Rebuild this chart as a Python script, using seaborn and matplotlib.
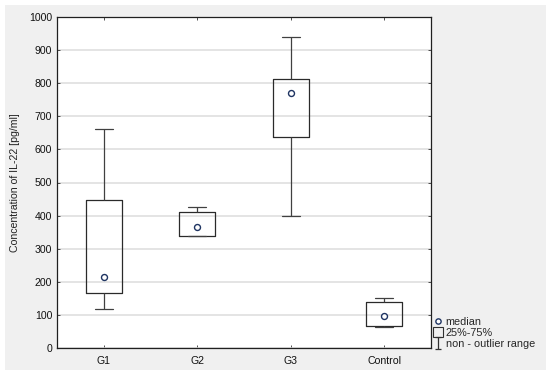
import numpy as np
import pandas as pd
import seaborn as sns
import matplotlib.pyplot as plt
from matplotlib.lines import Line2D
from matplotlib.patches import Rectangle
from matplotlib.path import Path

# values (pg/ml)
groups = ["G1", "G2", "G3", "Control"]
whisker_low = [117, 337, 399, 64]
q1 = [165, 338, 636, 67]
medians = [213, 366, 769, 98]
q3 = [447, 412, 812, 139]
whisker_high = [663, 427, 941, 152]

# five points per group -> min, q1, median, q3, max reproduce the box exactly
rows = []
for i, g in enumerate(groups):
    for v in (whisker_low[i], q1[i], medians[i], q3[i], whisker_high[i]):
        rows.append({"group": g, "value": v})
df = pd.DataFrame(rows)

sns.set_theme(style="ticks")
plt.rcParams["font.family"] = ["Liberation Sans", "DejaVu Sans"]

fig = plt.figure(figsize=(5.5, 3.76), dpi=100)
fig.patch.set_facecolor("white")
fig.add_artist(Rectangle((5 / 550, 6 / 376), 541 / 550, 365 / 376,
                         transform=fig.transFigure, facecolor="#f0f0f0",
                         edgecolor="none", zorder=-10))
ax = fig.add_axes([57 / 550, 28 / 376, 374 / 550, 331 / 376])
ax.set_facecolor("white")

line_kw = {"color": "#404040", "linewidth": 0.9}
sns.boxplot(data=df, x="group", y="value", order=groups, whis=(0, 100),
            width=0.385, fill=False, color="#2a2a2a", linewidth=0.9,
            boxprops={"color": "#2a2a2a"},
            medianprops={"visible": False}, whiskerprops=line_kw,
            capprops=line_kw, showfliers=False, ax=ax)
sns.stripplot(x=groups, y=medians, order=groups, jitter=False, size=4.3,
              color="white", edgecolor="#1f3462", linewidth=1.0,
              zorder=5, ax=ax)

ax.set_xlim(-0.5, 3.5)
ax.set_ylim(0, 1000)
ax.set_yticks(np.arange(0, 1001, 100))
ax.yaxis.grid(True, color="#dcdcdc", linewidth=1.1)
ax.set_axisbelow(True)
ax.set_xlabel("")
ax.set_ylabel("Concentration of IL-22 [pg/ml]", fontsize=7.6, color="#222222")
ax.yaxis.set_label_coords(-0.1, 0.5)
ax.tick_params(direction="in", length=2.5, width=0.6, labelsize=7.6,
               colors="#333333", labelcolor="#111111", top=True, right=True)
ax.tick_params(axis="x", pad=6)
for side in ax.spines:
    ax.spines[side].set_visible(True)
    ax.spines[side].set_color("#202020")
    ax.spines[side].set_linewidth(0.9)

# I-beam marker for the whisker legend entry
ibeam = Path([(-0.5, 1), (0.5, 1), (0, 1), (0, -1), (-0.5, -1), (0.5, -1)],
             [Path.MOVETO, Path.LINETO, Path.MOVETO, Path.LINETO,
              Path.MOVETO, Path.LINETO])
handles = [
    Line2D([], [], ls="none", marker="o", ms=3.8, mfc="white",
           mec="#1f3462", mew=1.0),
    Line2D([], [], ls="none", marker="s", ms=7, mfc="none",
           mec="#303030", mew=0.8),
    Line2D([], [], ls="none", marker=ibeam, ms=8, mfc="none",
           mec="#303030", mew=0.9),
]
ax.legend(handles, ["median", "25%-75%", "non - outlier range"],
          loc="lower left", bbox_to_anchor=(1.0, -0.01), frameon=False,
          fontsize=7.8, handlelength=0.9, handletextpad=0.25,
          labelspacing=0.12, borderpad=0, borderaxespad=0.2)

fig.savefig("out.png", dpi=100, facecolor=fig.get_facecolor())
